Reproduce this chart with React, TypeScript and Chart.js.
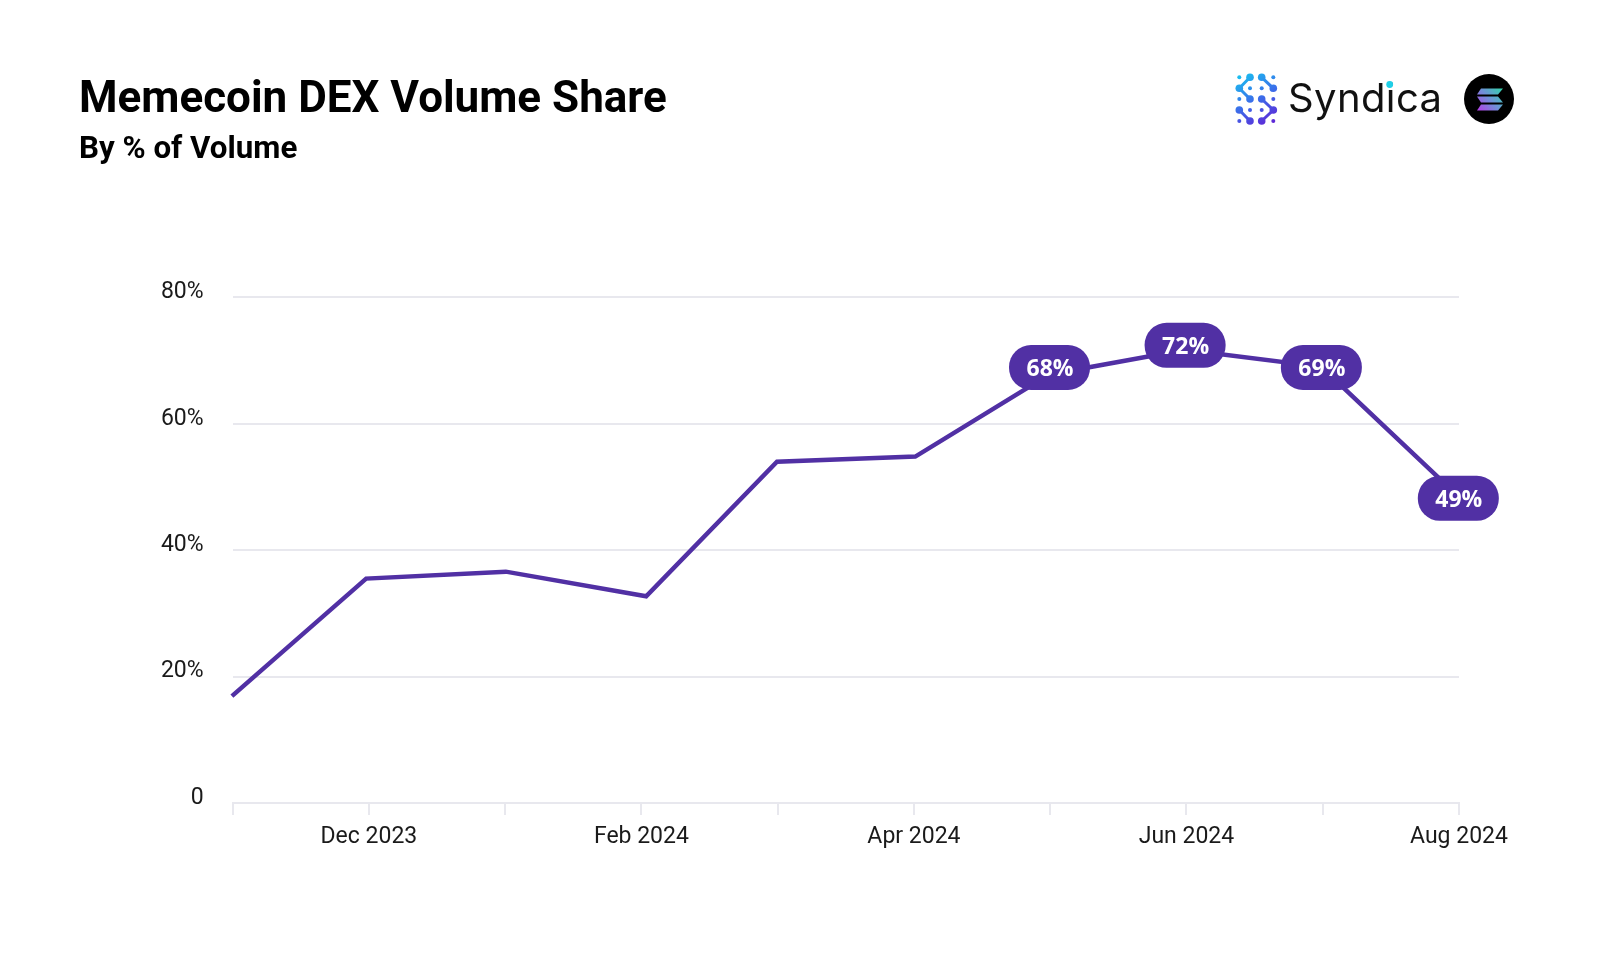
import React, { useEffect, useRef } from "react";
import { Chart, registerables } from "chart.js";

Chart.register(...registerables);

const TITLE = "Memecoin DEX Volume Share";
const SUBTITLE = "By % of Volume";
const monthPositions = [-0.005, 0.98, 2.005, 3.035, 3.995, 5.01, 5.995, 6.99, 7.99, 8.995];
const shareValues = [16.9, 35.5, 36.6, 32.7, 54.0, 54.8, 67.8, 71.7, 69.0, 48.5];
const pointLabels = ["", "", "", "", "", "", "68%", "72%", "69%", "49%"];
const labelLevels = [0, 0, 0, 0, 0, 0, 68.9, 72.4, 68.9, 48.2];
const monthTicks = ["", "Dec 2023", "", "Feb 2024", "", "Apr 2024", "", "Jun 2024", "", "Aug 2024"];
const yTicks = [0, 20, 40, 60, 80];

const PURPLE = "#5130a4";
const GRID = "#e8e8ee";
const TEXT = "#1a1a1a";

const pillPlugin = {
  id: "pills",
  afterDatasetsDraw(chart: any) {
    const { ctx } = chart;
    const meta = chart.getDatasetMeta(0);
    const yScale = chart.scales.y;
    const w = 81;
    const h = 45;
    meta.data.forEach((pt: any, i: number) => {
      const label = pointLabels[i];
      if (!label) return;
      const cy = yScale.getPixelForValue(labelLevels[i]);
      ctx.save();
      ctx.fillStyle = PURPLE;
      ctx.beginPath();
      ctx.roundRect(pt.x - w / 2, cy - h / 2, w, h, 22);
      ctx.fill();
      ctx.fillStyle = "#ffffff";
      ctx.font = "700 23px 'Open Sans'";
      ctx.textAlign = "center";
      ctx.textBaseline = "middle";
      ctx.fillText(label, pt.x + 0.5, cy + 2);
      ctx.restore();
    });
  },
};

function Logo() {
  const colX = [1239.3, 1250, 1261.7, 1273.3];
  const rowY = [77.3, 88.3, 99, 110, 121];
  const smallDots: [number, number][] = [
    [0, 0], [3, 0], [1, 1], [2, 1], [0, 2], [3, 2], [1, 3], [2, 3], [0, 4], [3, 4],
  ];
  const blobs: [number, number][][] = [
    [[1, 0], [0, 1], [1, 2]],
    [[2, 0], [3, 1]],
    [[2, 2], [3, 3], [2, 4]],
    [[0, 3], [1, 4]],
  ];
  return (
    <svg width={1600} height={959} style={{ position: "absolute", left: 0, top: 0, pointerEvents: "none" }}>
      <defs>
        <linearGradient id="syn" gradientUnits="userSpaceOnUse" x1="1240" y1="73" x2="1270" y2="125">
          <stop offset="0" stopColor="#17c4f0" />
          <stop offset="0.5" stopColor="#3a70ea" />
          <stop offset="1" stopColor="#5f25d6" />
        </linearGradient>
        <linearGradient id="sol" gradientUnits="userSpaceOnUse" x1="1503" y1="88" x2="1477" y2="111">
          <stop offset="0" stopColor="#2fd8a8" />
          <stop offset="0.5" stopColor="#6f90d8" />
          <stop offset="1" stopColor="#b83ce8" />
        </linearGradient>
      </defs>
      <g>
        {smallDots.map(([c, r], i) => (
          <circle key={i} cx={colX[c]} cy={rowY[r]} r={2} fill="url(#syn)" />
        ))}
        {blobs.map((b, i) => (
          <g key={i}>
            <path
              d={b.map(([c, r], j) => `${j ? "L" : "M"}${colX[c]} ${rowY[r]}`).join(" ")}
              fill="none"
              stroke="url(#syn)"
              strokeWidth={3}
              strokeLinejoin="round"
            />
            {b.map(([c, r], j) => (
              <circle key={j} cx={colX[c]} cy={rowY[r]} r={3.8} fill="url(#syn)" />
            ))}
          </g>
        ))}
      </g>
      <text x={1288} y={112} fontFamily="Inter" fontWeight={400} fontSize={40} fill="#111111" letterSpacing={0.4}>
        Syndica
      </text>
      <circle cx={1389.7} cy={84.5} r={3.4} fill="#1fd0e8" />
      <circle cx={1489} cy={99} r={25} fill="#000000" />
      <g fill="url(#sol)">
        <path d="M1481 88.5 H1503 L1498 94.5 H1477 Z" />
        <path d="M1477 96.5 H1498 L1503 102.5 H1481 Z" />
        <path d="M1481 104.5 H1503 L1498 110.5 H1477 Z" />
      </g>
    </svg>
  );
}

export default function App() {
  const ref = useRef<HTMLCanvasElement | null>(null);

  useEffect(() => {
    if (!ref.current) return;
    const chart = new Chart(ref.current, {
      type: "line",
      data: {
        datasets: [
          {
            data: monthPositions.map((x, i) => ({ x, y: shareValues[i] })),
            borderColor: PURPLE,
            borderWidth: 4.5,
            pointRadius: 0,
            tension: 0,
            clip: false,
            fill: false,
          },
        ],
      },
      options: {
        responsive: false,
        animation: false,
        devicePixelRatio: 1,
        layout: { autoPadding: false, padding: { left: 0, right: 141, top: 297.3, bottom: 0 } },
        plugins: { legend: { display: false }, tooltip: { enabled: false }, title: { display: false } },
        scales: {
          x: {
            type: "linear",
            min: 0,
            max: 9,
            afterFit: (s: any) => {
              s.height = 156;
            },
            afterBuildTicks: (s: any) => {
              s.ticks = monthTicks.map((_, i) => ({ value: i }));
            },
            border: { color: GRID, width: 2 },
            grid: { drawOnChartArea: false, drawTicks: true, tickLength: 12, color: GRID, lineWidth: 2 },
            ticks: {
              autoSkip: false,
              maxRotation: 0,
              padding: 8,
              color: TEXT,
              font: { family: "Roboto", size: 23 },
              callback: (v: any) => monthTicks[v] ?? "",
            },
          },
          y: {
            type: "linear",
            min: 0,
            max: 80,
            afterFit: (s: any) => {
              s.width = 232.6;
            },
            afterBuildTicks: (s: any) => {
              s.ticks = yTicks.map((value) => ({ value }));
            },
            border: { display: false },
            grid: { color: GRID, lineWidth: 2, drawTicks: false },
            ticks: {
              padding: 29,
              color: TEXT,
              font: { family: "Roboto", size: 23, lineHeight: 0.42 },
              callback: (v: any) => (v === 0 ? ["0", ""] : [`${v}%`, ""]),
            },
          },
        },
      },
      plugins: [pillPlugin],
    } as any);
    return () => chart.destroy();
  }, []);

  return (
    <div style={{ position: "absolute", left: 0, top: 0, width: 1600, height: 959, background: "#fff", overflow: "hidden" }}>
      <canvas ref={ref} width={1600} height={959} style={{ display: "block", position: "absolute", left: 0, top: 0 }} />
      <div
        style={{
          position: "absolute",
          left: 79,
          top: 70,
          fontFamily: "Roboto",
          fontWeight: 700,
          fontSize: 44,
          lineHeight: "54px",
          color: "#000",
          whiteSpace: "nowrap",
        }}
      >
        {TITLE}
      </div>
      <div
        style={{
          position: "absolute",
          left: 79,
          top: 129,
          fontFamily: "Roboto",
          fontWeight: 700,
          fontSize: 31.3,
          lineHeight: "38px",
          color: "#000",
          whiteSpace: "nowrap",
        }}
      >
        {SUBTITLE}
      </div>
      <Logo />
    </div>
  );
}
